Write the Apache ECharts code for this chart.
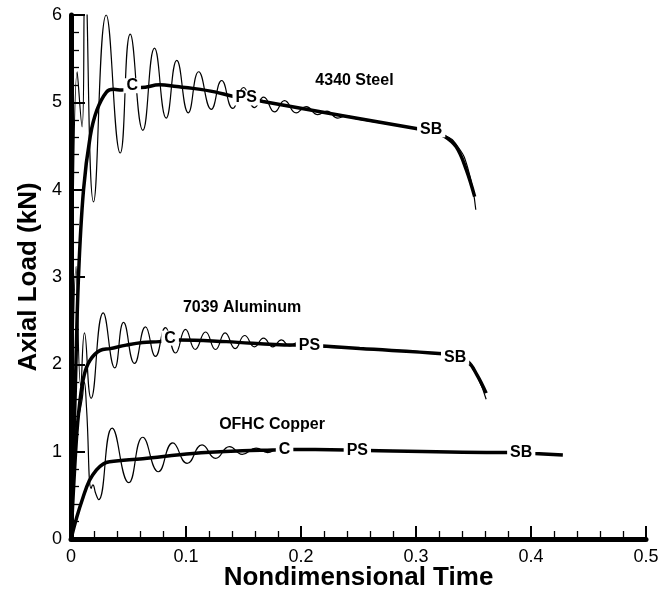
<!DOCTYPE html>
<html>
<head>
<meta charset="utf-8">
<script src="https://cdn.jsdelivr.net/npm/echarts@6/dist/echarts.min.js"></script>
<style>
html,body{margin:0;padding:0;background:#fff;}
#chart{width:661px;height:594px;}
</style>
</head>
<body>
<div id="chart"></div>
<script>
// Tick values
var xTicks = [0, 0.1, 0.2, 0.3, 0.4, 0.5];
var yTicks = [0, 1, 2, 3, 4, 5, 6];

// 4340 Steel
var steelSmooth = [[0,0],[0.0035,1.6],[0.0065,3.0],[0.0109,4.0],[0.0167,4.61],[0.0225,4.91],[0.031,5.12],[0.037,5.15],[0.044,5.14],[0.0532,5.17],[0.061,5.17],[0.077,5.2],[0.092,5.18],[0.106,5.16],[0.125,5.12],[0.1405,5.07],[0.1523,5.05],[0.167,5.01],[0.235,4.85],[0.300,4.70],[0.3132,4.67],[0.325,4.61],[0.335,4.49],[0.3437,4.23],[0.351,3.92]];
var steelRaw = [[0,0],[0.0054,5.35],[0.0096,4.72],[0.0123,6.4],[0.0196,3.86],[0.0306,6.0],[0.0428,4.42],[0.0515,5.78],[0.0625,4.68],[0.0726,5.62],[0.0828,4.82],[0.092,5.48],[0.102,4.88],[0.111,5.35],[0.122,4.92],[0.131,5.25],[0.1407,4.93],[0.150,5.17],[0.1596,4.94],[0.1675,5.06],[0.177,4.89],[0.1857,5.02],[0.1958,4.88],[0.2045,4.95],[0.2146,4.86],[0.2225,4.90],[0.232,4.82],[0.2393,4.845],[0.248,4.81],[0.300,4.70],[0.325,4.62],[0.336,4.50],[0.345,4.25],[0.352,3.77]];
var steelMarks = [[0.0532,5.19,'C'],[0.1523,5.05,'PS'],[0.3132,4.685,'SB']];

// 7039 Aluminum
var aluminumSmooth = [[0,0],[0.0045,1.1],[0.0075,1.55],[0.0115,1.88],[0.0167,2.05],[0.0254,2.16],[0.034,2.18],[0.048,2.22],[0.0624,2.25],[0.077,2.26],[0.0862,2.28],[0.094,2.28],[0.135,2.26],[0.193,2.22],[0.2074,2.22],[0.219,2.21],[0.251,2.18],[0.323,2.12],[0.334,2.08],[0.345,2.03],[0.353,1.88],[0.361,1.67]];
var aluminumRaw = [[0,0],[0.0045,3.12],[0.0085,1.75],[0.0117,2.36],[0.0175,1.61],[0.028,2.59],[0.0381,1.96],[0.0457,2.48],[0.0552,2.01],[0.0648,2.43],[0.0735,2.09],[0.0822,2.42],[0.0909,2.13],[0.0996,2.40],[0.108,2.17],[0.117,2.37],[0.1257,2.17],[0.134,2.36],[0.1428,2.18],[0.151,2.33],[0.1596,2.20],[0.1674,2.30],[0.1755,2.20],[0.183,2.28],[0.19,2.21],[0.197,2.25],[0.204,2.21],[0.251,2.18],[0.323,2.12],[0.345,2.03],[0.354,1.84],[0.361,1.60]];
var aluminumMarks = [[0.0862,2.30,'C'],[0.2074,2.22,'PS'],[0.334,2.08,'SB']];

// OFHC Copper
var copperSmooth = [[0,0],[0.005,0.25],[0.0103,0.47],[0.016,0.67],[0.022,0.79],[0.028,0.86],[0.0335,0.885],[0.0624,0.92],[0.106,0.98],[0.149,1.01],[0.1755,1.02],[0.1857,1.025],[0.239,1.02],[0.249,1.015],[0.38,0.99],[0.3915,0.99],[0.403,0.98],[0.4277,0.962]];
var copperRaw = [[0,0],[0.003,1.1],[0.0097,1.6],[0.0115,1.8],[0.0135,1.5],[0.0175,0.58],[0.019,0.62],[0.0215,0.52],[0.024,0.45],[0.0358,1.27],[0.0503,0.645],[0.0624,1.165],[0.076,0.77],[0.0885,1.10],[0.101,0.867],[0.114,1.077],[0.1257,0.924],[0.1378,1.057],[0.1489,0.97],[0.161,1.04],[0.171,0.99],[0.18,1.025],[0.1857,1.025],[0.239,1.02]];
var copperMarks = [[0.1857,1.027,'C'],[0.249,1.01,'PS'],[0.3915,0.99,'SB']];

// Material names
var materialLabels = [[0.2465,5.25,'4340 Steel'],[0.1487,2.65,'7039 Aluminum'],[0.1748,1.306,'OFHC Copper']];

var FONT = "'Liberation Sans', Arial, sans-serif";

function rawSeries(d){
  return {type:'line', data:d, smooth:0.5, showSymbol:false, symbol:'none',
    lineStyle:{color:'#000', width:1.2}, z:2, silent:true, animation:false};
}
function smoothSeries(d){
  return {type:'line', data:d, smooth:0.4, showSymbol:false, symbol:'none',
    lineStyle:{color:'#000', width:3.5}, z:3, silent:true, animation:false};
}
function textSeries(d, bg, zz){
  return {type:'scatter', data:d, symbolSize:1, z:zz, silent:true, animation:false,
    itemStyle:{color:'rgba(255,255,255,0)', opacity:1},
    label:{show:true, position:'inside', formatter:function(p){return p.value[2];},
      color:'#000', opacity:1, textBorderWidth:0, fontFamily:FONT, fontWeight:'bold', fontSize:16,
      backgroundColor:bg, padding:[0,3,0,3], lineHeight:15}};
}

var chart = echarts.init(document.getElementById('chart'), null, {renderer:'canvas'});
chart.setOption({
  backgroundColor:'#fff',
  animation:false,
  grid:{left:71, right:15, top:15, bottom:55, containLabel:false, outerBoundsMode:'none'},
  xAxis:{type:'value', min:xTicks[0], max:xTicks[xTicks.length-1], interval:0.1,
    name:'Nondimensional Time', nameLocation:'middle', nameGap:26, nameMoveOverlap:false,
    nameTextStyle:{color:'#000', fontFamily:FONT, fontWeight:'bold', fontSize:26},
    axisLine:{show:true, onZero:false, lineStyle:{color:'#000', width:5}},
    axisTick:{show:true, inside:true, length:13, lineStyle:{color:'#000', width:2}},
    minorTick:{show:true, splitNumber:5, length:8, lineStyle:{color:'#000', width:1.3}},
    splitLine:{show:false},
    axisLabel:{color:'#000', fontFamily:FONT, fontSize:18, margin:9,
      formatter:function(v){return xTicks.indexOf(Math.round(v*10)/10) >= 0 ? String(Math.round(v*10)/10) : '';}}
  },
  yAxis:{type:'value', min:yTicks[0], max:yTicks[yTicks.length-1], interval:1,
    name:'Axial Load (kN)', nameLocation:'middle', nameGap:29, nameMoveOverlap:false,
    nameTextStyle:{color:'#000', fontFamily:FONT, fontWeight:'bold', fontSize:26},
    axisLine:{show:true, onZero:false, lineStyle:{color:'#000', width:5}},
    axisTick:{show:true, inside:true, length:14, lineStyle:{color:'#000', width:2}},
    minorTick:{show:true, splitNumber:5, length:8, lineStyle:{color:'#000', width:1.3}},
    splitLine:{show:false},
    axisLabel:{color:'#000', fontFamily:FONT, fontSize:18, margin:9}
  },
  series:[
    rawSeries(steelRaw), rawSeries(aluminumRaw), rawSeries(copperRaw),
    smoothSeries(steelSmooth), smoothSeries(aluminumSmooth), smoothSeries(copperSmooth),
    textSeries(steelMarks, '#fff', 10), textSeries(aluminumMarks, '#fff', 10), textSeries(copperMarks, '#fff', 10),
    textSeries(materialLabels, 'transparent', 11)
  ]
});
</script>
</body>
</html>
